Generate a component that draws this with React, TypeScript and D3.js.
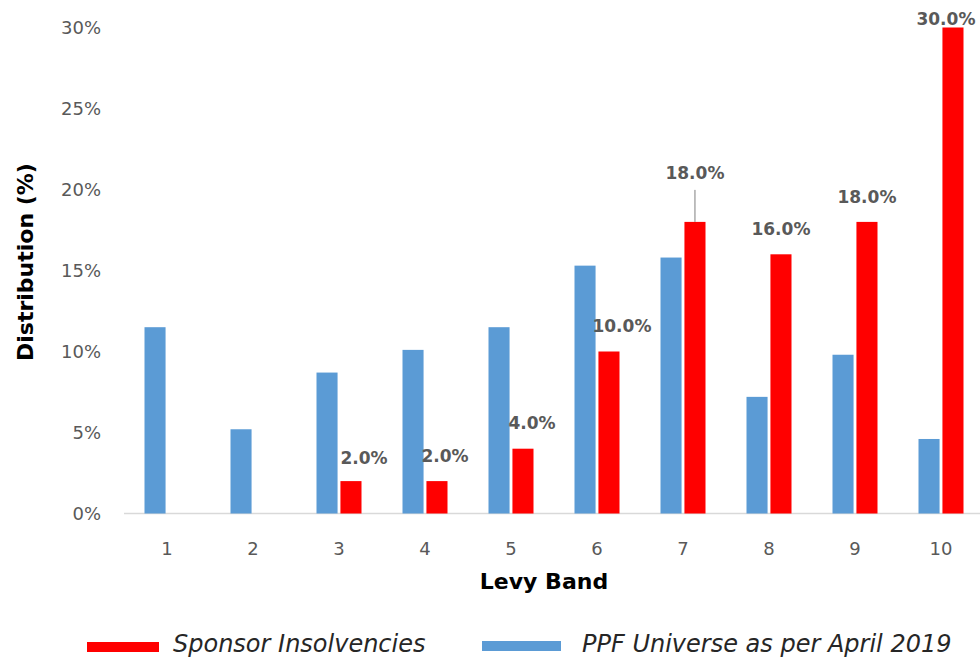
import React from "react";
import * as d3 from "d3";

const categories = ["1", "2", "3", "4", "5", "6", "7", "8", "9", "10"];
const ppfUniverse = [11.5, 5.2, 8.7, 10.1, 11.5, 15.3, 15.8, 7.2, 9.8, 4.6];
const sponsorInsolvencies = [0, 0, 2, 2, 4, 10, 18, 16, 18, 30];
const yTicks = [0, 5, 10, 15, 20, 25, 30];
const seriesNames = ["PPF Universe as per April 2019", "Sponsor Insolvencies"];
const seriesColors = ["#5b9bd5", "#ff0000"];
// label nudges (layout only)
const labelDx = [0, 0, 13, 8, 9, 13, 0, 0, 0, -7];
const labelDy = [-25, -25, -23, -25, -26, -26, -49, -25, -25, -9];

const W = 980;
const H = 657;
const FONT = "'DejaVu Sans', Verdana, sans-serif";

export default function App() {
  const x0 = d3.scaleBand<string>().domain(categories).range([124, 984]).padding(0);
  const groupW = 45;
  const x1 = d3.scaleBand<string>().domain(["ppf", "sponsor"]).range([0, groupW]).paddingInner(0.12);
  const y = d3.scaleLinear().domain([0, 30]).range([513.5, 27.5]);

  const gx = (c: string) => (x0(c) as number) + x0.bandwidth() / 2 - groupW / 2;

  return (
    <svg width={W} height={H} style={{ position: "absolute", left: 0, top: 0, background: "#fff" }}>
      {/* axis line */}
      <line x1={124} x2={980} y1={y(0)} y2={y(0)} stroke="#d9d9d9" strokeWidth={1.5} />
      {/* y ticks */}
      {yTicks.map((t) => (
        <text key={t} x={101} y={y(t)} dy="0.36em" textAnchor="end" fontFamily={FONT} fontSize={18} fill="#595959">
          {t}%
        </text>
      ))}
      {/* x ticks */}
      {categories.map((c) => (
        <text key={c} x={(x0(c) as number) + x0.bandwidth() / 2} y={555} textAnchor="middle" fontFamily={FONT} fontSize={18} fill="#595959">
          {c}
        </text>
      ))}
      {/* bars */}
      {categories.map((c, i) => (
        <g key={c}>
          <rect x={gx(c) + (x1("ppf") as number)} y={y(ppfUniverse[i])} width={x1.bandwidth()} height={y(0) - y(ppfUniverse[i])} fill={seriesColors[0]} />
          {sponsorInsolvencies[i] > 0 && (
            <rect x={gx(c) + (x1("sponsor") as number)} y={y(sponsorInsolvencies[i])} width={x1.bandwidth()} height={y(0) - y(sponsorInsolvencies[i])} fill={seriesColors[1]} />
          )}
        </g>
      ))}
      {/* data labels */}
      {categories.map((c, i) => {
        const v = sponsorInsolvencies[i];
        if (v <= 0) return null;
        const cx = gx(c) + (x1("sponsor") as number) + x1.bandwidth() / 2;
        const cy = y(v) + labelDy[i];
        return (
          <g key={"l" + c}>
            {labelDy[i] < -40 && (
              <line x1={cx} x2={cx} y1={cy + 17} y2={y(v)} stroke="#7f7f7f" strokeWidth={1} />
            )}
            <text x={cx + labelDx[i]} y={cy} dy="0.36em" textAnchor="middle" fontFamily={FONT} fontSize={17} fontWeight="bold" fill="#595959">
              {v.toFixed(1)}%
            </text>
          </g>
        );
      })}
      {/* axis titles */}
      <text x={544} y={589} textAnchor="middle" fontFamily={FONT} fontSize={22} fontWeight="bold" fill="#000">
        Levy Band
      </text>
      <text transform={`translate(33,262) rotate(-90)`} textAnchor="middle" fontFamily={FONT} fontSize={22} fontWeight="bold" fill="#000">
        Distribution (%)
      </text>
      {/* legend */}
      <rect x={87} y={642} width={72} height={10} fill={seriesColors[1]} />
      <text x={173} y={652} fontFamily={FONT} fontSize={24} fontStyle="italic" fill="#262626">
        {seriesNames[1]}
      </text>
      <rect x={482} y={641} width={79} height={10} fill={seriesColors[0]} />
      <text x={582} y={652} fontFamily={FONT} fontSize={24} fontStyle="italic" fill="#262626">
        {seriesNames[0]}
      </text>
    </svg>
  );
}
